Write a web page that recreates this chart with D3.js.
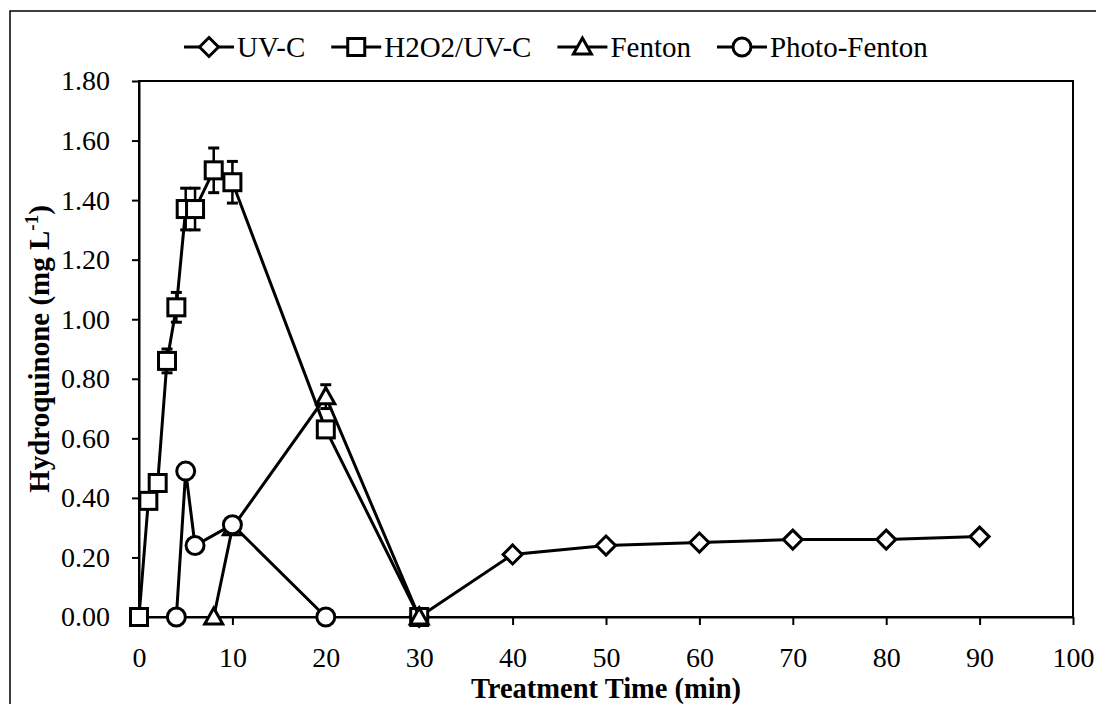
<!DOCTYPE html>
<html><head><meta charset="utf-8">
<script src="https://cdn.jsdelivr.net/npm/d3@7"></script>
<style>body{margin:0;background:#fff}svg{display:block}</style>
</head><body><svg id="c" width="1096" height="704"></svg>
<script>
// ---- data ----
const seriesNames = ["UV-C", "H2O2/UV-C", "Fenton", "Photo-Fenton"];
const uvcTime = [30, 40, 50, 60, 70, 80, 90];
const uvcVal  = [0, 0.21, 0.24, 0.25, 0.26, 0.26, 0.27];
const h2o2Time = [0, 1, 2, 3, 4, 5, 6, 8, 10, 20, 30];
const h2o2Val  = [0, 0.39, 0.45, 0.86, 1.04, 1.37, 1.37, 1.50, 1.46, 0.63, 0];
const h2o2Err  = [0, 0, 0, 0.04, 0.05, 0.07, 0.07, 0.075, 0.07, 0, 0];
const fentonTime = [8, 10, 20, 30];
const fentonVal  = [0, 0.30, 0.74, 0];
const fentonErr  = [0, 0, 0.04, 0];
const pfTime = [4, 5, 6, 10, 20];
const pfVal  = [0, 0.49, 0.24, 0.31, 0];
const xTicks = [0, 10, 20, 30, 40, 50, 60, 70, 80, 90, 100];
const yTicks = [0, 0.2, 0.4, 0.6, 0.8, 1.0, 1.2, 1.4, 1.6, 1.8];

const FONT = "'Liberation Serif','Times New Roman',serif";
const svg = d3.select("#c");
const L = 139, R = 1073, T = 81, B = 617;
const x = d3.scaleLinear().domain([0, 100]).range([L, R]);
const y = d3.scaleLinear().domain([0, 1.8]).range([B, T]);

// outer frame
svg.append("rect").attr("x", 10).attr("y", 11).attr("width", 1100).attr("height", 720)
  .attr("fill", "#fff").attr("stroke", "#000").attr("stroke-width", 1.5);

// plot frame
svg.append("rect").attr("x", L).attr("y", T).attr("width", R - L).attr("height", B - T)
  .attr("fill", "none").attr("stroke", "#000").attr("stroke-width", 2);

// axes
const gx = svg.append("g").attr("transform", `translate(0,${B})`)
  .call(d3.axisBottom(x).tickValues(xTicks).tickSize(8).tickSizeOuter(0).tickFormat(d3.format("d")));
gx.selectAll("text").attr("y", 50).attr("dy", 0);
const gy = svg.append("g").attr("transform", `translate(${L},0)`)
  .call(d3.axisLeft(y).tickValues(yTicks).tickSize(7).tickSizeOuter(0).tickPadding(22).tickFormat(d3.format(".2f")));
[gx, gy].forEach(g => {
  g.attr("font-family", FONT);
  g.select(".domain").attr("stroke", "#000").attr("stroke-width", 2);
  g.selectAll(".tick line").attr("stroke", "#000").attr("stroke-width", 2);
  g.selectAll("text").attr("fill", "#000").style("font-family", FONT).style("font-size", "28px");
});

// titles
svg.append("text").attr("x", (L + R) / 2).attr("y", 698).attr("text-anchor", "middle")
  .style("font-family", FONT).style("font-size", "28.5px").style("font-weight", "bold")
  .text("Treatment Time (min)");
const yt = svg.append("text").attr("transform", `translate(49,${(T + B) / 2}) rotate(-90)`)
  .attr("text-anchor", "middle")
  .style("font-family", FONT).style("font-size", "29px").style("font-weight", "bold");
yt.append("tspan").text("Hydroquinone (mg L");
yt.append("tspan").attr("dy", -11).style("font-size", "19px").text("-1");
yt.append("tspan").attr("dy", 11).text(")");

// markers
function marker(g, type, cx, cy) {
  let el;
  if (type === "diamond") {
    el = g.append("path").attr("d", `M${cx},${cy - 9.5}L${cx + 9.5},${cy}L${cx},${cy + 9.5}L${cx - 9.5},${cy}Z`);
  } else if (type === "square") {
    el = g.append("rect").attr("x", cx - 8.5).attr("y", cy - 8.5).attr("width", 17).attr("height", 17);
  } else if (type === "triangle") {
    el = g.append("path").attr("d", `M${cx},${cy - 9}L${cx + 9},${cy + 7}L${cx - 9},${cy + 7}Z`);
  } else {
    el = g.append("circle").attr("cx", cx).attr("cy", cy).attr("r", 9);
  }
  el.attr("fill", "#fff").attr("stroke", "#000").attr("stroke-width", 3).attr("stroke-linejoin", "miter");
}

const series = [
  { name: seriesNames[0], t: uvcTime, v: uvcVal, e: null, m: "diamond" },
  { name: seriesNames[1], t: h2o2Time, v: h2o2Val, e: h2o2Err, m: "square" },
  { name: seriesNames[2], t: fentonTime, v: fentonVal, e: fentonErr, m: "triangle" },
  { name: seriesNames[3], t: pfTime, v: pfVal, e: null, m: "circle" }
];
const line = d3.line().x(d => x(d[0])).y(d => y(d[1]));
series.forEach(s => {
  const g = svg.append("g");
  const pts = s.t.map((t, i) => [t, s.v[i]]);
  g.append("path").attr("d", line(pts)).attr("fill", "none").attr("stroke", "#000").attr("stroke-width", 3);
  if (s.e) {
    s.t.forEach((t, i) => {
      const e = s.e[i];
      if (!e) return;
      const cx = x(t), y1 = y(s.v[i] + e), y0 = y(s.v[i] - e);
      g.append("line").attr("x1", cx).attr("x2", cx).attr("y1", y0).attr("y2", y1).attr("stroke", "#000").attr("stroke-width", 2.5);
      [y0, y1].forEach(yy => g.append("line").attr("x1", cx - 5.5).attr("x2", cx + 5.5).attr("y1", yy).attr("y2", yy)
        .attr("stroke", "#000").attr("stroke-width", 3));
    });
  }
  pts.forEach(p => marker(g, s.m, x(p[0]), y(p[1])));
});

// legend
const lg = svg.append("g");
let lx = 184;
const ly = 47;
series.forEach(s => {
  lg.append("line").attr("x1", lx).attr("x2", lx + 50).attr("y1", ly).attr("y2", ly).attr("stroke", "#000").attr("stroke-width", 3);
  marker(lg, s.m, lx + 25, ly);
  const t = lg.append("text").attr("x", lx + 53).attr("y", 57)
    .style("font-family", FONT).style("font-size", "29px").text(s.name);
  lx = lx + 53 + t.node().getComputedTextLength() + 26;
});
</script></body></html>
